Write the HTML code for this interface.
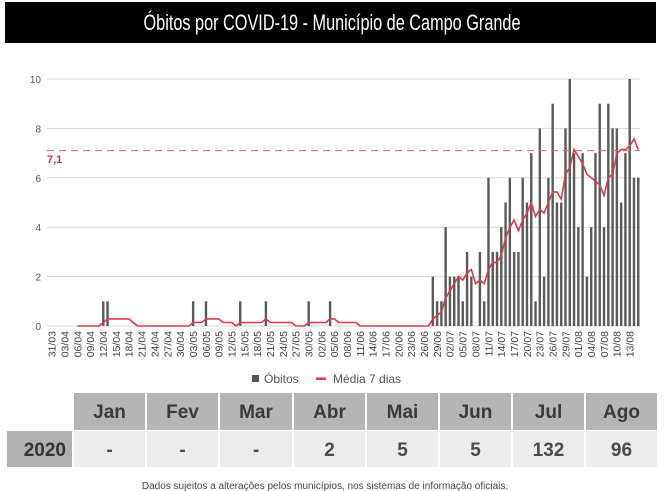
<!DOCTYPE html>
<html><head><meta charset="utf-8"><style>
html,body{margin:0;padding:0;background:#fff;}
svg{display:block;font-family:"Liberation Sans",sans-serif;}
</style></head><body>
<svg id="s" width="664" height="491" viewBox="0 0 664 491" xmlns="http://www.w3.org/2000/svg">
<rect x="0" y="0" width="664" height="491" fill="#fff"/>
<rect x="5" y="2" width="651" height="41" fill="#000"/>
<text x="332" y="30" fill="#fff" font-size="22" text-anchor="middle" textLength="377" lengthAdjust="spacingAndGlyphs" font-family="Liberation Sans, sans-serif">Óbitos por COVID-19 - Município de Campo Grande</text>
<g id="grid"></g>
<g id="bars"></g>
<g id="lbl"></g>
<line x1="47" y1="150.6" x2="640" y2="150.6" stroke="#e06070" stroke-width="1" stroke-dasharray="7,5"/>
<text x="47" y="163" fill="#c8323f" font-size="11" font-weight="bold">7,1</text>
<polyline id="ma" fill="none" stroke="#e0384a" stroke-width="1.6"/>
<rect x="252" y="375" width="7" height="7" fill="#555"/>
<text x="264" y="383" font-size="12" fill="#555">Óbitos</text>
<rect x="316" y="377.5" width="10" height="2.5" fill="#e0384a"/>
<text x="333" y="383" font-size="12" fill="#555">Média 7 dias</text>
<g id="tbl"></g>
<text x="325" y="489" font-size="10" fill="#444" text-anchor="middle">Dados sujeitos a alterações pelos municípios, nos sistemas de informação oficiais.</text>
</svg>
<script>
var NS="http://www.w3.org/2000/svg";
function el(t,a,p,txt){var e=document.createElementNS(NS,t);for(var k in a)e.setAttribute(k,a[k]);if(txt!=null)e.textContent=txt;document.getElementById(p).appendChild(e);return e;}
var y0=326,u=24.7,x0=51.9,dx=4.28,N=138;
for(var v=0;v<=10;v+=2){var y=y0-v*u;el('line',{x1:47,y1:y,x2:640,y2:y,stroke:'#d8d8d8','stroke-width':1},'grid');el('text',{x:41,y:y+4,'font-size':10,fill:'#555','text-anchor':'end'},'grid',v);}
var d=new Array(N).fill(0);
[12,13,33,36,44,50,60,65].forEach(function(i){d[i]=1;});
var late=[2,1,1,4,2,2,2,1,3,2,0,3,1,6,3,3,4,5,6,3,3,6,5,7,1,8,2,6,9,5,5,8,10,7,4,7,2,4,7,9,4,9,8,8,5,7,10,6,6];
for(var i=0;i<late.length;i++)d[89+i]=late[i];
for(var i=0;i<N;i++){if(d[i]>0){var x=x0+i*dx;el('rect',{x:x-1.2,y:y0-d[i]*u,width:2.4,height:d[i]*u,fill:'#5a5a5a'},'bars');}}
var pts=[];for(var i=6;i<N;i++){var s=0;for(var j=i-6;j<=i;j++)s+=d[j];pts.push((x0+i*dx).toFixed(1)+','+(y0-s/7*u).toFixed(1));}
document.getElementById('ma').setAttribute('points',pts.join(' '));
var mo=3,day=31;
for(var i=0;i<=135;i++){if(i%3==0){var x=x0+i*dx;var t=(day<10?'0':'')+day+'/'+(mo<10?'0':'')+mo;el('text',{x:0,y:0,'font-size':10.5,fill:'#444','text-anchor':'end',transform:'translate('+(x+3.8)+',331) rotate(-90)'},'lbl',t);}
day++;var ml={3:31,4:30,5:31,6:30,7:31,8:31}[mo];if(day>ml){day=1;mo++;}}
var cols=[73,146,219,293,366,439,512,585,658],mon=['Jan','Fev','Mar','Abr','Mai','Jun','Jul','Ago'],val=['-','-','-','2','5','5','132','96'];
for(var i=0;i<8;i++){var a=cols[i]+1,b=cols[i+1]-1;el('rect',{x:a,y:393,width:b-a,height:37,fill:'#b5b5b5'},'tbl');el('rect',{x:a,y:431,width:b-a,height:36,fill:'#ececec'},'tbl');
el('text',{x:(a+b)/2,y:418,'font-size':19,'font-weight':'bold',fill:'#3a3a3a','text-anchor':'middle'},'tbl',mon[i]);
el('text',{x:(a+b)/2,y:456,'font-size':19,'font-weight':'bold',fill:'#4a4a4a','text-anchor':'middle'},'tbl',val[i]);}
el('rect',{x:7,y:431,width:65,height:36,fill:'#b0b0b0'},'tbl');
el('text',{x:66,y:456,'font-size':19,'font-weight':'bold',fill:'#333','text-anchor':'end'},'tbl','2020');
</script>
</body></html>
